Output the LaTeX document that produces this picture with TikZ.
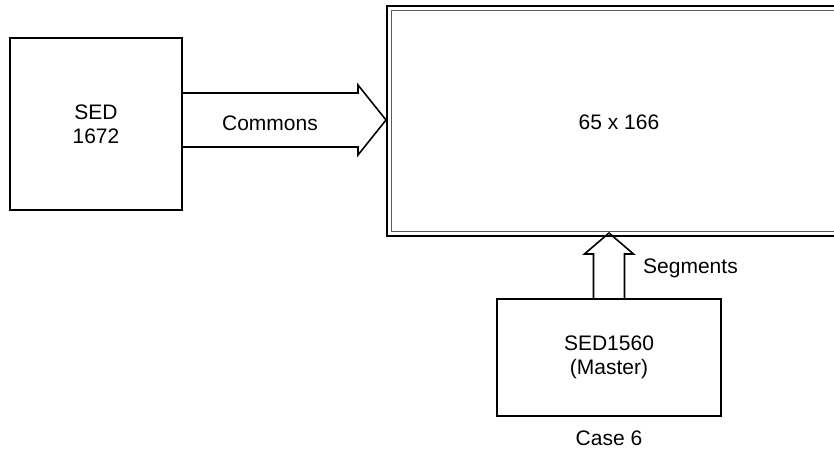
\documentclass[tikz,border=0pt]{standalone}
\usepackage{fontspec}
\setmainfont{Liberation Sans}
\usetikzlibrary{calc}
\begin{document}
\begin{tikzpicture}[x=1pt,y=-1pt,
  box/.style={draw=black,line width=1.6pt,fill=white,align=center,inner sep=0pt,
    font=\fontsize{21}{24}\selectfont},
  lbl/.style={font=\fontsize{21}{24}\selectfont,inner sep=0pt},
  blockarrow/.style={draw=black,line width=1.6pt,line join=miter}]
\useasboundingbox (0,0) rectangle (834,454);
% display panel (double border, runs off the right edge)
\node[draw=black,line width=2pt,minimum width=463pt,minimum height=230pt,inner sep=0pt] (disp) at (618.5,121) {};
\draw[gray!70!black,line width=1pt] ([shift={(5.5,5.5)}]disp.north west) -- ([shift={(0,5.5)}]disp.north east);
\draw[gray!70!black,line width=1pt] ([shift={(5.5,5.5)}]disp.north west) -- ([shift={(5.5,-5.5)}]disp.south west) -- ([shift={(0,-5.5)}]disp.south east);
\node[lbl] (dlabel) at (619,122) {65 x 166};
% boxes
\node[box,minimum width=172pt,minimum height=172pt] (sed) at (96,124) {SED\\1672};
\node[box,minimum width=224pt,minimum height=117pt] (mast) at (609,357.5) {SED1560\\(Master)};
\node[lbl] (case) at (609,438) {Case 6};
% Commons block arrow
\coordinate (ctip) at ([yshift=1pt]disp.west);
\coordinate (cta) at ($(ctip)+(-28,-27)$);
\coordinate (ctb) at ($(ctip)+(-28,-35)$);
\coordinate (cbb) at ($(ctip)+(-28,35)$);
\coordinate (cba) at ($(ctip)+(-28,27)$);
\draw[blockarrow] (sed.east |- cta) -- (cta) -- (ctb) -- (ctip) -- (cbb) -- (cba) -- (sed.east |- cba);
\node[lbl] (commons) at (270,123) {Commons};
% Segments block arrow
\coordinate (stip) at ([yshift=4pt]mast.north |- disp.south);
\coordinate (sla) at ($(stip)+(-15.5,21)$);
\coordinate (slb) at ($(stip)+(-24.5,21)$);
\coordinate (srb) at ($(stip)+(24.5,21)$);
\coordinate (sra) at ($(stip)+(15.5,21)$);
\draw[blockarrow] (sla |- mast.north) -- (sla) -- (slb) -- (stip) -- (srb) -- (sra) -- (sra |- mast.north);
\node[lbl,anchor=west] (segs) at (643,268) {Segments};
\end{tikzpicture}
\end{document}
